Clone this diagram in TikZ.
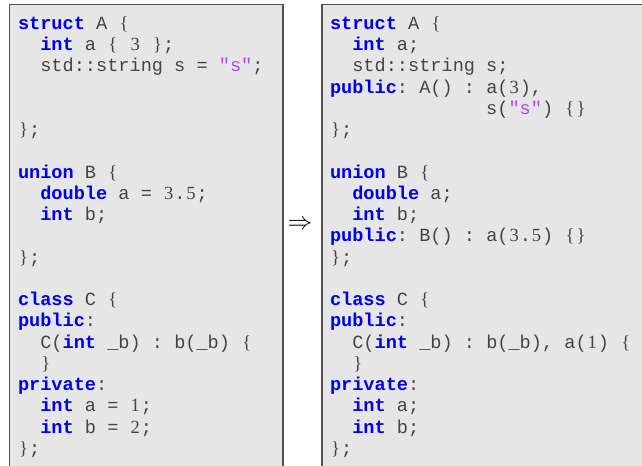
\documentclass[tikz,border=0pt]{standalone}
\usepackage{fontspec}
\setmainfont{Liberation Serif}
\setmonofont{Liberation Mono}
\definecolor{boxfill}{HTML}{E6E6E6}
\definecolor{boxline}{HTML}{505050}
\definecolor{codegray}{HTML}{444444}
\definecolor{kwblue}{HTML}{0000F0}
\definecolor{strviolet}{HTML}{B048F0}
\newcommand\kw[1]{\textcolor{kwblue}{\bfseries #1}}
\newcommand\dg[1]{\makebox[0.6em][c]{\rmfamily #1}}
\newcommand\str[1]{\textcolor{strviolet}{#1}}
\newcommand\codeline[5]{\node[codetext] (#1) at ({#2+#3*11.16},{29.3+#4*21.25}) {#5};}
\tikzset{
  codetext/.style={anchor=base west, inner sep=0pt, outer sep=0pt, text=codegray,
    font=\ttfamily\fontsize{18.6bp}{21.25bp}\selectfont\frenchspacing},
  codebox/.style={fill=boxfill, draw=boxline, line width=1.2bp},
}
\begin{document}
\begin{tikzpicture}[x=1bp,y=-1bp]
\useasboundingbox (0,0) rectangle (642,466);
\clip (0,0) rectangle (642,466);
\draw[codebox] (9.6,4.8) rectangle (283,480);
\draw[codebox] (322,4.8) rectangle (660,480);
\node[inner sep=0pt, font=\fontsize{26bp}{26bp}\selectfont] (arr) at (300,225) {$\Rightarrow$};
% left
\codeline{L0}{18}{0}{0}{\kw{struct} A \dg{\{}}
\codeline{L1}{18}{2}{1}{\kw{int} a \dg{\{} \dg{3} \dg{\}};}
\codeline{L2}{18}{2}{2}{std::string s = \str{"s"};}
\codeline{L5}{18}{0}{5}{\dg{\}};}
\codeline{L7}{18}{0}{7}{\kw{union} B \dg{\{}}
\codeline{L8}{18}{2}{8}{\kw{double} a = \dg{3}.\dg{5};}
\codeline{L9}{18}{2}{9}{\kw{int} b;}
\codeline{L11}{18}{0}{11}{\dg{\}};}
\codeline{L13}{18}{0}{13}{\kw{class} C \dg{\{}}
\codeline{L14}{18}{0}{14}{\kw{public}:}
\codeline{L15}{18}{2}{15}{C(\kw{int} \_b) : b(\_b) \dg{\{}}
\codeline{L16}{18}{2}{16}{\dg{\}}}
\codeline{L17}{18}{0}{17}{\kw{private}:}
\codeline{L18}{18}{2}{18}{\kw{int} a = \dg{1};}
\codeline{L19}{18}{2}{19}{\kw{int} b = \dg{2};}
\codeline{L20}{18}{0}{20}{\dg{\}};}
% right
\codeline{R0}{330}{0}{0}{\kw{struct} A \dg{\{}}
\codeline{R1}{330}{2}{1}{\kw{int} a;}
\codeline{R2}{330}{2}{2}{std::string s;}
\codeline{R3}{330}{0}{3}{\kw{public}: A() : a(\dg{3}),}
\codeline{R4}{330}{14}{4}{s(\str{"s"}) \dg{\{}\dg{\}}}
\codeline{R5}{330}{0}{5}{\dg{\}};}
\codeline{R7}{330}{0}{7}{\kw{union} B \dg{\{}}
\codeline{R8}{330}{2}{8}{\kw{double} a;}
\codeline{R9}{330}{2}{9}{\kw{int} b;}
\codeline{R10}{330}{0}{10}{\kw{public}: B() : a(\dg{3}.\dg{5}) \dg{\{}\dg{\}}}
\codeline{R11}{330}{0}{11}{\dg{\}};}
\codeline{R13}{330}{0}{13}{\kw{class} C \dg{\{}}
\codeline{R14}{330}{0}{14}{\kw{public}:}
\codeline{R15}{330}{2}{15}{C(\kw{int} \_b) : b(\_b), a(\dg{1}) \dg{\{}}
\codeline{R16}{330}{2}{16}{\dg{\}}}
\codeline{R17}{330}{0}{17}{\kw{private}:}
\codeline{R18}{330}{2}{18}{\kw{int} a;}
\codeline{R19}{330}{2}{19}{\kw{int} b;}
\codeline{R20}{330}{0}{20}{\dg{\}};}
\end{tikzpicture}
\end{document}
